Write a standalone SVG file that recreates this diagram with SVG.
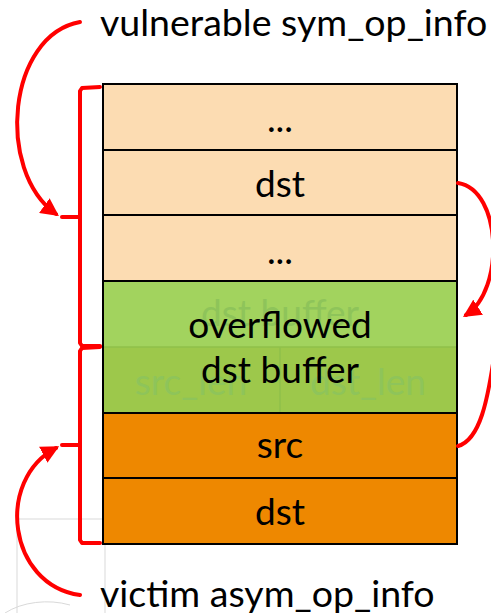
<svg xmlns="http://www.w3.org/2000/svg" width="491" height="613" viewBox="0 0 491 613">
<defs>
<style>
.lbl{font-family:Lato,"Open Sans","Liberation Sans",sans-serif;font-size:37px;fill:#000;text-anchor:middle}
.big{font-family:Lato,"Open Sans","Liberation Sans",sans-serif;font-size:37.5px;fill:#000}
.ghost{font-family:Lato,"Open Sans","Liberation Sans",sans-serif;font-size:37px;fill:#8ec45a;text-anchor:middle}
.cell{stroke:#000;stroke-width:2}
.red{fill:none;stroke:#f00;stroke-width:4;stroke-linecap:round;stroke-linejoin:round}
.faint{stroke:#d9d9d9;stroke-width:1;fill:none}
</style>
<marker id="ah" viewBox="0 0 10 10" refX="8" refY="5" markerWidth="4.5" markerHeight="4.5" orient="auto" markerUnits="strokeWidth">
<path d="M0,0 L10,5 L0,10 z" fill="#f00"/>
</marker>
</defs>
<rect width="491" height="613" fill="#fff"/>
<g id="background">
<line class="faint" x1="17" y1="519" x2="103" y2="519"/>
<line class="faint" x1="17" y1="519" x2="17" y2="613"/>
<line class="faint" x1="105" y1="545" x2="105" y2="613"/>
<path class="faint" d="M5,613 A60,40 0 0 1 70,605"/>
</g>
<g id="row-1"><rect class="cell" x="103" y="84" width="354" height="66" fill="#fcdcb2"/><text class="lbl" x="280" y="132">...</text></g>
<g id="row-dst"><rect class="cell" x="103" y="150" width="354" height="65" fill="#fcdcb2"/><text class="lbl" x="280" y="197">dst</text></g>
<g id="row-3"><rect class="cell" x="103" y="215" width="354" height="66" fill="#fcdcb2"/><text class="lbl" x="280" y="264">...</text></g>
<g id="overflowed">
<rect x="103" y="281" width="354" height="66" fill="#a2d35e"/>
<rect x="103" y="347" width="354" height="66" fill="#9dc84b"/>
<line x1="103" y1="347" x2="457" y2="347" stroke="#8fc04a" stroke-width="1.5"/>
<line x1="280" y1="347" x2="280" y2="413" stroke="#8fc04a" stroke-width="1.5"/>
<text class="ghost" x="280" y="326">dst buffer</text>
<text class="ghost" x="191" y="395">src_len</text>
<text class="ghost" x="368" y="395">dst_len</text>
<rect x="103" y="281" width="354" height="132" fill="none" stroke="#000" stroke-width="2"/>
<text class="lbl" x="280" y="338">overflowed</text>
<text class="lbl" x="280" y="383">dst buffer</text>
</g>
<g id="row-src"><rect class="cell" x="103" y="413" width="354" height="65" fill="#ee8800"/><text class="lbl" x="280" y="458">src</text></g>
<g id="row-dst2"><rect class="cell" x="103" y="478" width="354" height="66" fill="#ee8800"/><text class="lbl" x="280" y="525">dst</text></g>
<g id="label-vulnerable"><text class="big" x="100" y="36">vulnerable sym_op_info</text></g>
<g id="label-victim"><text class="big" x="100" y="607">victim asym_op_info</text></g>
<g id="connectors">
<path class="red" d="M100,87 L82,88 L80,91 L80,343 L82,346 L100,346"/>
<path class="red" d="M80,217 L62,217"/>
<path class="red" d="M100,347 L82,348 L80,351 L80,540 L82,543 L100,543"/>
<path class="red" d="M80,445 L62,445"/>
<path class="red" d="M80,22 C8,35 -5,170 56,214" marker-end="url(#ah)"/>
<path class="red" d="M80,595 C8,585 -5,480 56,448" marker-end="url(#ah)"/>
<path class="red" d="M458,183 C502,190 505,290 466,315" marker-end="url(#ah)"/>
<path class="red" d="M458,446 C480,440 488,400 495,350"/>
</g>
</svg>
